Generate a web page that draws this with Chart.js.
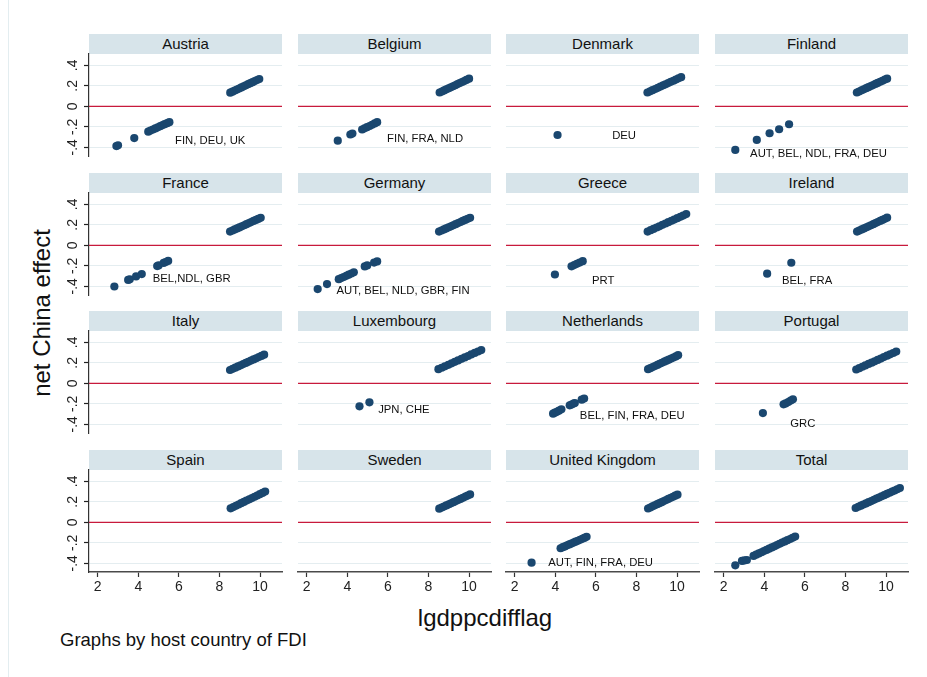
<!DOCTYPE html>
<html>
<head>
<meta charset="utf-8">
<script src="https://cdn.jsdelivr.net/npm/chart.js@4.4.1/dist/chart.umd.min.js"></script>
<style>
  html, body { margin: 0; padding: 0; background: #ffffff; }
  #fig { position: relative; width: 927px; height: 677px; overflow: hidden;
         font-family: 'Liberation Sans', Arial, Helvetica, sans-serif; color: #111; }
  #frame { position: absolute; left: 8px; top: 0; width: 1px; height: 677px; background: #e3edf0; }
  .strip { position: absolute; height: 20px; line-height: 20px; background: #d7e4ea;
           font-size: 15px; text-align: center; white-space: nowrap; }
  canvas { position: absolute; }
  #ytitle { position: absolute; left: 42px; top: 313px; font-size: 24px; white-space: nowrap;
            transform: translate(-50%, -50%) rotate(-90deg); }
  #xtitle { position: absolute; left: 485px; top: 606px; font-size: 24px; line-height: 24px;
            white-space: nowrap; transform: translateX(-50%); }
  #foot { position: absolute; left: 60px; top: 631px; font-size: 18.5px; line-height: 18.5px; white-space: nowrap; }
</style>
</head>
<body>
<div id="fig">
  <div id="frame"></div>
  <div id="ytitle">net China effect</div>
  <div id="xtitle">lgdppcdifflag</div>
  <div id="foot">Graphs by host country of FDI</div>
</div>
<script>
// ---- data -------------------------------------------------------------
const panelTitles = ['Austria', 'Belgium', 'Denmark', 'Finland',
                     'France', 'Germany', 'Greece', 'Ireland',
                     'Italy', 'Luxembourg', 'Netherlands', 'Portugal',
                     'Spain', 'Sweden', 'United Kingdom', 'Total'];

const xTicks = [2, 4, 6, 8, 10];
const yTicks = [-0.4, -0.2, 0, 0.2, 0.4];
const yTickLabels = ['-.4', '-.2', '0', '.2', '.4'];

const austriaX = [2.92, 3.00, 3.80, 4.49, 4.60, 4.72, 4.84, 4.96, 5.08, 5.20, 5.30, 5.42, 5.53,
                  8.53, 8.64, 8.75, 8.86, 8.97, 9.08, 9.19, 9.30, 9.41, 9.52, 9.63, 9.74, 9.85, 9.96];
const austriaY = [-0.388, -0.381, -0.310, -0.247, -0.237, -0.226, -0.216, -0.205, -0.194, -0.183, -0.174, -0.164, -0.155,
                  0.133, 0.143, 0.154, 0.164, 0.174, 0.185, 0.195, 0.205, 0.216, 0.226, 0.236, 0.247, 0.257, 0.267];

const belgiumX = [3.53, 4.15, 4.25, 4.73, 4.85, 4.97, 5.10, 5.22, 5.35, 5.47,
                  8.55, 8.66, 8.77, 8.88, 8.99, 9.10, 9.21, 9.32, 9.43, 9.54, 9.65, 9.76, 9.87, 10.00];
const belgiumY = [-0.335, -0.275, -0.266, -0.226, -0.215, -0.204, -0.192, -0.180, -0.167, -0.155,
                  0.135, 0.145, 0.155, 0.166, 0.176, 0.186, 0.196, 0.206, 0.217, 0.227, 0.237, 0.247, 0.258, 0.270];

const denmarkX = [4.11,
                  8.54, 8.67, 8.79, 8.92, 9.05, 9.18, 9.31, 9.43, 9.56, 9.69, 9.82, 9.94, 10.07, 10.20];
const denmarkY = [-0.280,
                  0.135, 0.147, 0.158, 0.169, 0.181, 0.193, 0.205, 0.215, 0.227, 0.239, 0.250, 0.261, 0.273, 0.285];

const finlandX = [2.57, 3.63, 4.26, 4.73, 5.22,
                  8.56, 8.67, 8.79, 8.90, 9.02, 9.13, 9.25, 9.36, 9.48, 9.59, 9.71, 9.82, 9.94, 10.05];
const finlandY = [-0.426, -0.328, -0.263, -0.224, -0.175,
                  0.135, 0.145, 0.156, 0.166, 0.177, 0.187, 0.198, 0.208, 0.219, 0.229, 0.240, 0.250, 0.261, 0.270];

const franceX = [2.82, 3.50, 3.58, 3.89, 4.17, 4.93, 5.00, 5.25, 5.35, 5.47,
                 8.52, 8.64, 8.75, 8.87, 8.98, 9.10, 9.22, 9.33, 9.45, 9.56, 9.68, 9.80, 9.91, 10.03];
const franceY = [-0.402, -0.338, -0.332, -0.304, -0.281, -0.203, -0.196, -0.172, -0.163, -0.152,
                 0.134, 0.145, 0.155, 0.165, 0.175, 0.186, 0.196, 0.207, 0.217, 0.227, 0.238, 0.248, 0.258, 0.269];

const germanyX = [2.54, 3.00, 3.58, 3.70, 3.82, 3.95, 4.07, 4.20, 4.32, 4.86, 4.98, 5.32, 5.47,
                  8.52, 8.64, 8.76, 8.87, 8.99, 9.11, 9.22, 9.34, 9.46, 9.58, 9.69, 9.81, 9.93, 10.05];
const germanyY = [-0.427, -0.378, -0.330, -0.320, -0.309, -0.298, -0.287, -0.275, -0.263, -0.206, -0.196, -0.168, -0.157,
                  0.134, 0.145, 0.155, 0.165, 0.176, 0.186, 0.196, 0.207, 0.217, 0.228, 0.238, 0.248, 0.259, 0.269];

const greeceX = [3.98, 4.80, 4.93, 5.06, 5.20, 5.35,
                 8.55, 8.70, 8.84, 8.99, 9.13, 9.28, 9.43, 9.57, 9.72, 9.86, 10.01, 10.16, 10.30, 10.45];
const greeceY = [-0.285, -0.205, -0.193, -0.181, -0.168, -0.155,
                 0.134, 0.148, 0.160, 0.174, 0.186, 0.200, 0.213, 0.226, 0.239, 0.251, 0.265, 0.278, 0.291, 0.305];

const irelandX = [4.14, 5.33,
                  8.57, 8.68, 8.80, 8.91, 9.03, 9.14, 9.25, 9.37, 9.48, 9.59, 9.71, 9.82, 9.94, 10.05];
const irelandY = [-0.277, -0.170,
                  0.134, 0.144, 0.155, 0.165, 0.176, 0.186, 0.196, 0.207, 0.217, 0.227, 0.238, 0.248, 0.259, 0.270];

const italyX = [8.52, 8.65, 8.78, 8.91, 9.04, 9.17, 9.30, 9.42, 9.55, 9.68, 9.81, 9.94, 10.07, 10.20];
const italyY = [0.130, 0.142, 0.153, 0.165, 0.176, 0.188, 0.199, 0.210, 0.222, 0.233, 0.245, 0.257, 0.268, 0.280];

const luxembourgX = [4.60, 5.09,
                     8.49, 8.65, 8.81, 8.98, 9.14, 9.30, 9.46, 9.63, 9.79, 9.95, 10.11, 10.28, 10.44, 10.60];
const luxembourgY = [-0.225, -0.185,
                     0.138, 0.152, 0.166, 0.181, 0.195, 0.210, 0.224, 0.239, 0.253, 0.267, 0.282, 0.297, 0.311, 0.325];

const netherlandsX = [3.89, 3.98, 4.08, 4.18, 4.30, 4.71, 4.80, 4.90, 4.96, 5.30, 5.42,
                      8.57, 8.68, 8.80, 8.91, 9.03, 9.14, 9.25, 9.37, 9.48, 9.59, 9.71, 9.82, 9.94, 10.05];
const netherlandsY = [-0.296, -0.287, -0.278, -0.267, -0.254, -0.215, -0.207, -0.198, -0.192, -0.160, -0.149,
                      0.138, 0.148, 0.159, 0.169, 0.180, 0.190, 0.200, 0.211, 0.221, 0.231, 0.242, 0.252, 0.263, 0.275];

const portugalX = [3.93, 4.95, 5.05, 5.18, 5.30, 5.41,
                   8.53, 8.68, 8.83, 8.98, 9.14, 9.29, 9.44, 9.59, 9.74, 9.89, 10.05, 10.20, 10.35, 10.50];
const portugalY = [-0.290, -0.205, -0.196, -0.183, -0.168, -0.156,
                   0.135, 0.148, 0.162, 0.175, 0.189, 0.202, 0.215, 0.229, 0.242, 0.256, 0.270, 0.283, 0.296, 0.310];

const spainX = [8.55, 8.68, 8.81, 8.94, 9.07, 9.20, 9.33, 9.47, 9.60, 9.73, 9.86, 9.99, 10.12, 10.25];
const spainY = [0.137, 0.149, 0.162, 0.174, 0.187, 0.199, 0.212, 0.225, 0.237, 0.250, 0.262, 0.275, 0.287, 0.300];

const swedenX = [8.53, 8.65, 8.76, 8.88, 9.00, 9.11, 9.23, 9.35, 9.46, 9.58, 9.70, 9.82, 9.93, 10.05];
const swedenY = [0.133, 0.144, 0.154, 0.165, 0.176, 0.186, 0.197, 0.208, 0.218, 0.229, 0.240, 0.251, 0.261, 0.272];

const ukX = [2.83, 4.26, 4.37, 4.47, 4.58, 4.69, 4.79, 4.90, 5.00, 5.11, 5.22, 5.33, 5.43, 5.54,
             8.57, 8.68, 8.79, 8.90, 9.02, 9.13, 9.24, 9.35, 9.46, 9.57, 9.69, 9.80, 9.91, 10.02];
const ukY = [-0.394, -0.253, -0.243, -0.235, -0.225, -0.216, -0.207, -0.198, -0.189, -0.180, -0.170, -0.161, -0.152, -0.142,
             0.135, 0.145, 0.156, 0.166, 0.177, 0.187, 0.197, 0.208, 0.218, 0.229, 0.240, 0.250, 0.260, 0.270];

const totalX = [2.57, 2.90, 3.02, 3.14, 3.47, 3.60, 3.73, 3.86, 3.98, 4.11, 4.24, 4.37, 4.50, 4.62, 4.75, 4.88, 5.01, 5.14, 5.27, 5.39, 5.52,
                8.50, 8.63, 8.76, 8.88, 9.01, 9.14, 9.27, 9.40, 9.53, 9.65, 9.78, 9.91, 10.04, 10.17, 10.30, 10.42, 10.55, 10.68];
const totalY = [-0.420, -0.377, -0.372, -0.368, -0.328, -0.316, -0.304, -0.292, -0.281, -0.269, -0.257, -0.245, -0.234, -0.222, -0.210, -0.198, -0.186, -0.174, -0.163, -0.151, -0.139,
                0.140, 0.152, 0.163, 0.174, 0.185, 0.197, 0.208, 0.220, 0.232, 0.242, 0.254, 0.265, 0.277, 0.289, 0.300, 0.311, 0.323, 0.335];

// country labels written inside panels (anchor = left edge, vertical middle, data units)
const noteText = ['FIN, DEU, UK', 'FIN, FRA, NLD', 'DEU', 'AUT, BEL, NDL, FRA, DEU',
                  'BEL,NDL, GBR', 'AUT, BEL, NLD, GBR, FIN', 'PRT', 'BEL, FRA',
                  '', 'JPN, CHE', 'BEL, FIN, FRA, DEU', 'GRC',
                  '', '', 'AUT, FIN, FRA, DEU', ''];
const noteX = [5.81, 5.96, 6.80, 3.30, 4.71, 3.47, 5.81, 4.87, null, 5.52, 5.21, 5.28, null, null, 3.65, null];
const noteY = [-0.335, -0.32, -0.29, -0.46, -0.33, -0.444, -0.345, -0.35, null, -0.262, -0.32, -0.40, null, null, -0.394, null];

const seriesX = [austriaX, belgiumX, denmarkX, finlandX, franceX, germanyX, greeceX, irelandX,
                 italyX, luxembourgX, netherlandsX, portugalX, spainX, swedenX, ukX, totalX];
const seriesY = [austriaY, belgiumY, denmarkY, finlandY, franceY, germanyY, greeceY, irelandY,
                 italyY, luxembourgY, netherlandsY, portugalY, spainY, swedenY, ukY, totalY];

// ---- layout -----------------------------------------------------------
const FONT = "'Liberation Sans', Arial, Helvetica, sans-serif";
const colLeft = [89, 298, 506, 715];
const rowTop = [54, 193, 331, 470];
const PW = 193, PH = 102;          // plot region size
const AXW = 60, AXH = 32;          // room reserved for y / x axes inside each canvas
const PADT = 4, PADR = 10;
const X_MIN = 1.57, X_MAX = 11.08, Y_MIN = -0.485, Y_MAX = 0.51;

const fig = document.getElementById('fig');

panelTitles.forEach((title, i) => {
  const c = i % 4, r = Math.floor(i / 4);
  const isLeft = c === 0, isBottom = r === 3;

  const strip = document.createElement('div');
  strip.className = 'strip';
  strip.style.left = colLeft[c] + 'px';
  strip.style.top = (rowTop[r] - 20) + 'px';
  strip.style.width = PW + 'px';
  strip.textContent = title;
  fig.appendChild(strip);

  const cv = document.createElement('canvas');
  cv.width = AXW + PW + PADR;
  cv.height = PADT + PH + AXH;
  cv.style.left = (colLeft[c] - AXW) + 'px';
  cv.style.top = (rowTop[r] - PADT) + 'px';
  fig.appendChild(cv);

  const pts = seriesX[i].map((x, k) => ({ x: x, y: seriesY[i][k] }));

  const panelPlugin = {
    id: 'panelDecor',
    beforeDatasetsDraw(chart) {
      const { ctx, chartArea, scales } = chart;
      const y0 = scales.y.getPixelForValue(0);
      ctx.save();
      ctx.strokeStyle = '#c81a3c';
      ctx.lineWidth = 1.2;
      ctx.beginPath();
      ctx.moveTo(chartArea.left, y0);
      ctx.lineTo(chartArea.right, y0);
      ctx.stroke();
      ctx.restore();
    },
    afterDatasetsDraw(chart) {
      const { ctx, chartArea, scales } = chart;
      ctx.save();
      if (noteText[i]) {
        ctx.fillStyle = '#111';
        ctx.font = '11.3px ' + FONT;
        ctx.textAlign = 'left';
        ctx.textBaseline = 'middle';
        ctx.fillText(noteText[i], scales.x.getPixelForValue(noteX[i]), scales.y.getPixelForValue(noteY[i]));
      }
      if (isLeft) {
        ctx.fillStyle = '#222';
        ctx.font = '14px ' + FONT;
        ctx.textAlign = 'center';
        ctx.textBaseline = 'middle';
        yTicks.forEach((v, k) => {
          ctx.save();
          ctx.translate(chartArea.left - 16, scales.y.getPixelForValue(v));
          ctx.rotate(-Math.PI / 2);
          ctx.fillText(yTickLabels[k], 0, 0);
          ctx.restore();
        });
      }
      ctx.restore();
    }
  };

  new Chart(cv, {
    type: 'scatter',
    data: {
      datasets: [{
        data: pts,
        pointRadius: 4.1,
        pointHoverRadius: 4.1,
        pointBorderWidth: 0,
        backgroundColor: '#1a476f',
        borderColor: '#1a476f'
      }]
    },
    options: {
      responsive: false,
      animation: false,
      events: [],
      layout: { padding: { left: 0, top: PADT, right: PADR, bottom: 0 } },
      plugins: { legend: { display: false }, tooltip: { enabled: false }, title: { display: false } },
      scales: {
        x: {
          type: 'linear',
          min: X_MIN, max: X_MAX,
          afterBuildTicks: s => { s.ticks = xTicks.map(v => ({ value: v })); },
          afterFit: s => { s.height = AXH; },
          grid: { display: isBottom, drawOnChartArea: false, tickLength: 5, tickColor: '#333', tickWidth: 1.2 },
          border: { display: isBottom, color: '#4a4a4a', width: 1.6 },
          ticks: { display: isBottom, autoSkip: false, maxRotation: 0, padding: 2, color: '#222',
                   font: { family: FONT, size: 14 } }
        },
        y: {
          type: 'linear',
          min: Y_MIN, max: Y_MAX,
          afterBuildTicks: s => { s.ticks = yTicks.map(v => ({ value: v })); },
          afterFit: s => { s.width = AXW; },
          grid: { color: '#e4edf0', lineWidth: 1, drawTicks: isLeft, tickLength: 5, tickColor: '#222', tickWidth: 1.2 },
          border: { display: isLeft, color: '#333', width: 1.2 },
          ticks: { display: false }
        }
      }
    },
    plugins: [panelPlugin]
  });
});
</script>
</body>
</html>
